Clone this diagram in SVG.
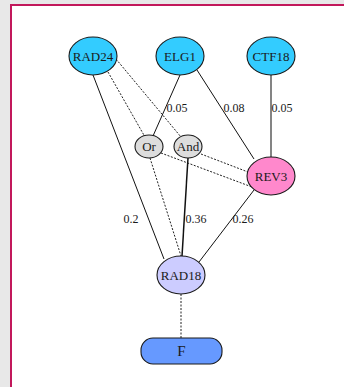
<svg xmlns="http://www.w3.org/2000/svg" width="344" height="387" viewBox="0 0 344 387">
  <style>
    text { font-family: "Liberation Serif", "Times New Roman", serif; fill: #1a1a1a; text-anchor: middle; dominant-baseline: central; }
    .node { stroke: #1a1a1a; stroke-width: 1.1; }
    .lbl { font-size: 12px; }
    .ntext { font-size: 13px; }
    .gate { font-size: 13px; }
    .solid { stroke: #111; stroke-width: 1; fill: none; }
    .bold { stroke: #111; stroke-width: 1.5; fill: none; }
    .grey { stroke: #777; stroke-width: 1.8; fill: none; }
    .dot { stroke: #222; stroke-width: 1; stroke-dasharray: 2 1.5; fill: none; }
  </style>

  <!-- page backdrop and frame -->
  <rect x="0" y="0" width="344" height="387" fill="#e8e8e8"/>
  <rect x="11" y="5" width="345" height="395" fill="#ffffff" stroke="#c2185b" stroke-width="2"/>

  <!-- connectors -->
  <g id="edges">
    <line class="solid" x1="93" y1="75" x2="164" y2="259"/>
    <line class="dot" x1="108" y1="72" x2="145" y2="137"/>
    <line class="dot" x1="116" y1="59" x2="181" y2="137"/>
    <line class="solid" x1="180" y1="75" x2="153" y2="136"/>
    <line class="solid" x1="197" y1="70" x2="254" y2="159"/>
    <line class="grey" x1="271" y1="75" x2="271" y2="157"/>
    <line class="dot" x1="161" y1="153" x2="252" y2="187"/>
    <line class="dot" x1="201" y1="154" x2="248" y2="172"/>
    <line class="dot" x1="150" y1="158" x2="181" y2="256"/>
    <line class="bold" x1="188" y1="158" x2="182" y2="256"/>
    <line class="solid" x1="254" y1="190" x2="199" y2="262"/>
    <line class="dot" x1="181" y1="294" x2="181" y2="338"/>
    <text class="lbl" x="177" y="108">0.05</text>
    <text class="lbl" x="234" y="108">0.08</text>
    <text class="lbl" x="282" y="108">0.05</text>
    <text class="lbl" x="131" y="219">0.2</text>
    <text class="lbl" x="196" y="219">0.36</text>
    <text class="lbl" x="243" y="219">0.26</text>
  </g>

  <g id="RAD24">
    <ellipse class="node" cx="93" cy="56" rx="24" ry="19" fill="#33ccff"/>
    <text class="ntext" x="93" y="56">RAD24</text>
  </g>
  <g id="ELG1">
    <ellipse class="node" cx="180" cy="56" rx="24" ry="19" fill="#33ccff"/>
    <text class="ntext" x="180" y="56">ELG1</text>
  </g>
  <g id="CTF18">
    <ellipse class="node" cx="271" cy="56" rx="24" ry="19" fill="#33ccff"/>
    <text class="ntext" x="271" y="56">CTF18</text>
  </g>
  <g id="Or">
    <ellipse class="node" cx="149" cy="146.5" rx="14" ry="11.5" fill="#dddddd"/>
    <text class="gate" x="149" y="146.5">Or</text>
  </g>
  <g id="And">
    <ellipse class="node" cx="188" cy="146.5" rx="14" ry="11.5" fill="#dddddd"/>
    <text class="gate" x="188" y="146.5">And</text>
  </g>
  <g id="REV3">
    <ellipse class="node" cx="271" cy="176" rx="24" ry="19" fill="#ff88cc"/>
    <text class="ntext" x="271" y="176">REV3</text>
  </g>
  <g id="RAD18">
    <ellipse class="node" cx="181" cy="275" rx="24" ry="19" fill="#ccccff"/>
    <text class="ntext" x="181" y="275">RAD18</text>
  </g>
  <g id="F">
    <rect class="node" x="141" y="338" width="81" height="26" rx="12" ry="12" fill="#6699ff"/>
    <text x="181.5" y="351" font-size="15px">F</text>
  </g>
</svg>
